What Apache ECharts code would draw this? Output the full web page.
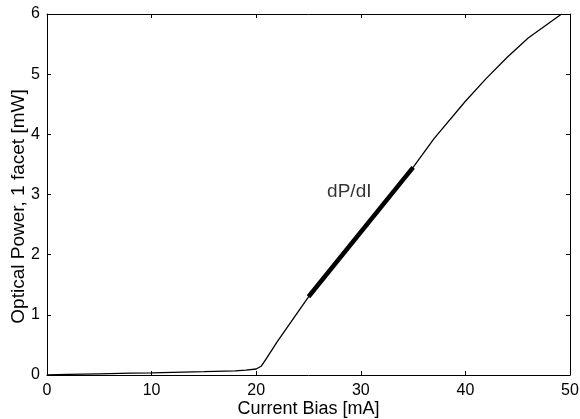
<!DOCTYPE html>
<html>
<head>
<meta charset="utf-8">
<script src="https://cdn.jsdelivr.net/npm/echarts@6/dist/echarts.min.js"></script>
<style>
  html, body { margin: 0; padding: 0; background: #fff; }
  #chart { width: 580px; height: 419px; }
</style>
</head>
<body>
<div id="chart"></div>
<script>
// Laser L-I curve: bias current (mA) vs optical power from one facet (mW)
const biasCurrent = [0, 2, 5, 8, 10, 12, 15, 18, 19, 20, 20.5, 21, 22, 23, 24, 25, 27, 30, 33, 35, 37, 40, 42, 44, 46, 48, 49.2];
const opticalPower = [0.0, 0.01, 0.02, 0.03, 0.035, 0.045, 0.055, 0.07, 0.08, 0.1, 0.15, 0.28, 0.55, 0.8, 1.05, 1.3, 1.75, 2.4, 3.02, 3.45, 3.93, 4.55, 4.93, 5.28, 5.6, 5.85, 6.0];

// Slope segment highlighted as dP/dI
const slopeCurrent = [25, 35];
const slopePower = [1.3, 3.45];
const slopeLabel = 'dP/dI';
const slopeLabelPos = [28.9, 3.04];

const xTicks = { min: 0, max: 50, interval: 10 };
const yTicks = { min: 0, max: 6, interval: 1 };

const font = 'Liberation Sans, Arial, Helvetica, sans-serif';

const toPairs = (xs, ys) => xs.map((x, i) => [x, ys[i]]);

const axisBase = {
  axisLine: { show: true, onZero: false, lineStyle: { color: '#000', width: 1 } },
  axisTick: { show: true, inside: true, length: 4, lineStyle: { color: '#000' } },
  splitLine: { show: false }
};

const chart = echarts.init(document.getElementById('chart'), null, { renderer: 'canvas' });
chart.setOption({
  animation: false,
  backgroundColor: '#fff',
  grid: { left: 47, right: 10, top: 14, bottom: 44, containLabel: false, outerBoundsMode: 'none' },
  xAxis: [
    Object.assign({}, axisBase, {
      type: 'value', position: 'bottom', ...xTicks,
      name: 'Current Bias [mA]', nameLocation: 'middle', nameGap: 25, nameMoveOverlap: false,
      nameTextStyle: { color: '#000', fontSize: 18, fontFamily: font },
      axisLabel: { color: '#000', fontSize: 16, fontFamily: font, margin: 8 }
    }),
    Object.assign({}, axisBase, {
      type: 'value', position: 'top', ...xTicks, axisLabel: { show: false }
    })
  ],
  yAxis: [
    Object.assign({}, axisBase, {
      type: 'value', position: 'left', ...yTicks,
      name: 'Optical Power, 1 facet [mW]', nameLocation: 'middle', nameGap: 19, nameMoveOverlap: false,
      nameTextStyle: { color: '#000', fontSize: 19, fontFamily: font, padding: [0, 24, 0, 0] },
      axisLabel: { color: '#000', fontSize: 16, fontFamily: font, margin: 7 }
    }),
    Object.assign({}, axisBase, {
      type: 'value', position: 'right', ...yTicks, axisLabel: { show: false }
    })
  ],
  series: [
    {
      type: 'line',
      data: toPairs(biasCurrent, opticalPower),
      showSymbol: false,
      symbol: 'none',
      lineStyle: { color: '#000', width: 1.3 },
      clip: true
    },
    {
      type: 'line',
      data: toPairs(slopeCurrent, slopePower),
      showSymbol: false,
      symbol: 'none',
      lineStyle: { color: '#000', width: 4.5 }
    },
    {
      type: 'scatter',
      data: [slopeLabelPos],
      symbolSize: 0,
      label: {
        show: true, position: 'inside', formatter: slopeLabel,
        color: '#000', fontSize: 19, fontFamily: font
      }
    }
  ]
});
</script>
</body>
</html>
